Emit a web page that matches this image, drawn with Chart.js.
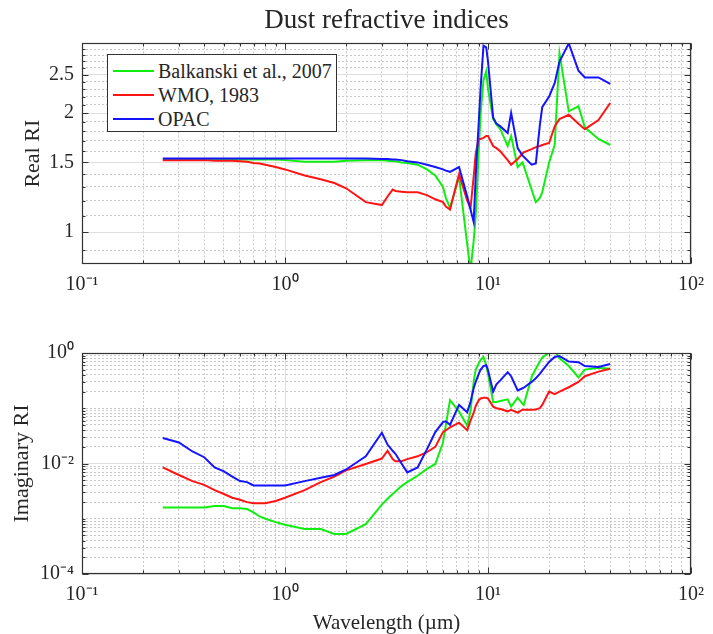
<!DOCTYPE html>
<html>
<head>
<meta charset="utf-8">
<title>Dust refractive indices</title>
<script src="https://cdn.jsdelivr.net/npm/chart.js@4.4.1/dist/chart.umd.min.js"></script>
<style>
  html, body { margin: 0; padding: 0; background: #fff; overflow: hidden; }
  #wrap { position: relative; width: 713px; height: 634px; }
  #wrap canvas { position: absolute; left: 0; }
  #realCanvas { top: 0; }
  #imagCanvas { top: 300px; }
  #legend {
    position: absolute; left: 107px; top: 54px; width: 228px; height: 76px;
    border: 1px solid #303030; background: #fff;
    font: 20px 'Liberation Serif', serif; color: #262626;
  }
  #legend .row { position: absolute; left: 0; height: 24px; line-height: 24px; white-space: nowrap; }
  #legend .swatch { position: absolute; left: 5px; top: 11px; width: 41px; height: 2px; }
  #legend .name { position: absolute; left: 50px; top: 0; }
</style>
</head>
<body>
<div id="wrap">
  <canvas id="realCanvas" width="713" height="300"></canvas>
  <canvas id="imagCanvas" width="713" height="334"></canvas>
  <div id="legend"></div>
</div>
<script>
// wavelength grid (µm)
const wavelength = [0.25, 0.3, 0.35, 0.4, 0.45, 0.5, 0.55, 0.6, 0.65, 0.7, 0.75, 0.8, 0.9, 1.0,
  1.25, 1.5, 1.75, 2.0, 2.5, 3.0, 3.2, 3.39, 3.5, 3.75, 4.0, 4.5, 5.0, 5.5, 6.0, 6.2, 6.5,
  7.2, 7.9, 8.2, 8.5, 8.7, 9.0, 9.2, 9.5, 9.8, 10.0, 10.6, 11.0, 11.5, 12.5, 13.0, 14.0,
  14.8, 15.0, 16.4, 17.2, 18.0, 18.5, 20.0, 21.3, 22.5, 25.0, 27.9, 30.0, 35.0, 40.0];

// real part
const realBalkanski = [1.525, 1.525, 1.525, 1.525, 1.525, 1.525, 1.525, 1.525, 1.525, 1.525, 1.525, 1.525, 1.525, 1.52,
  1.505, 1.505, 1.505, 1.515, 1.52, 1.52, 1.515, 1.51, 1.51, 1.5, 1.495, 1.48, 1.44, 1.39, 1.3, 1.22, 1.15,
  1.38, 0.93, 0.8, 0.95, 1.1, 1.6, 2.0, 2.42, 2.55, 2.3, 1.93, 1.87, 1.82, 1.65, 1.75, 1.46,
  1.5, 1.47, 1.28, 1.19, 1.22, 1.26, 1.5, 1.66, 2.83, 2.02, 2.08, 1.84, 1.72, 1.66];
const realWMO = [1.52, 1.52, 1.52, 1.52, 1.515, 1.515, 1.515, 1.51, 1.505, 1.495, 1.49, 1.48, 1.46, 1.44,
  1.39, 1.36, 1.33, 1.29, 1.19, 1.17, 1.23, 1.28, 1.27, 1.265, 1.26, 1.26, 1.24, 1.21, 1.19, 1.16, 1.14,
  1.4, 1.2, 1.15, 1.38, 1.58, 1.72, 1.72, 1.73, 1.75, 1.75, 1.65, 1.63, 1.6, 1.52, 1.48, 1.53,
  1.58, 1.59, 1.62, 1.64, 1.65, 1.66, 1.68, 1.85, 1.93, 1.98, 1.88, 1.82, 1.92, 2.12];
const realOPAC = [1.535, 1.535, 1.535, 1.535, 1.535, 1.535, 1.535, 1.535, 1.535, 1.535, 1.535, 1.535, 1.535, 1.535,
  1.535, 1.535, 1.535, 1.535, 1.535, 1.53, 1.53, 1.525, 1.525, 1.52, 1.51, 1.5, 1.48, 1.46, 1.44, 1.43, 1.42,
  1.46, 1.23, 1.14, 1.06, 1.39, 1.89, 2.32, 2.96, 2.93, 2.7, 1.95, 1.88, 1.85, 1.78, 2.0, 1.63,
  1.56, 1.55, 1.48, 1.49, 1.86, 2.07, 2.2, 2.38, 2.7, 3.0, 2.56, 2.46, 2.46, 2.37];

// imaginary part
const imagBalkanski = [0.0016, 0.0016, 0.0016, 0.0016, 0.0017, 0.0017, 0.00155, 0.00155, 0.0015, 0.0013, 0.0011, 0.001, 0.00087, 0.00078,
  0.00065, 0.00065, 0.00053, 0.00053, 0.0008, 0.0018, 0.0023, 0.0028, 0.0031, 0.0039, 0.0046, 0.006, 0.008, 0.0098, 0.024, 0.05, 0.14,
  0.087, 0.048, 0.09, 0.3, 0.5, 0.65, 0.75, 0.85, 0.6, 0.42, 0.13, 0.13, 0.135, 0.145, 0.107, 0.155,
  0.12, 0.115, 0.37, 0.52, 0.7, 0.82, 1.02, 1.12, 0.8, 0.58, 0.36, 0.5, 0.54, 0.52];
const imagWMO = [0.0085, 0.0062, 0.0048, 0.0041, 0.0033, 0.0028, 0.0024, 0.0022, 0.002, 0.0019, 0.0019, 0.0019, 0.0021, 0.0024,
  0.0033, 0.0046, 0.0058, 0.0075, 0.0098, 0.0123, 0.017, 0.012, 0.011, 0.011, 0.012, 0.0135, 0.016, 0.02, 0.037, 0.04, 0.045,
  0.055, 0.04, 0.06, 0.083, 0.11, 0.14, 0.15, 0.155, 0.155, 0.15, 0.107, 0.1, 0.097, 0.088, 0.094, 0.083,
  0.094, 0.094, 0.094, 0.095, 0.1, 0.115, 0.2, 0.18, 0.2, 0.24, 0.3, 0.38, 0.46, 0.52];
const imagOPAC = [0.029, 0.024, 0.0165, 0.013, 0.0085, 0.0072, 0.0058, 0.0048, 0.0046, 0.004, 0.004, 0.004, 0.004, 0.004,
  0.0048, 0.0055, 0.0062, 0.0078, 0.0135, 0.036, 0.022, 0.017, 0.015, 0.01, 0.0069, 0.0085, 0.018, 0.037, 0.056, 0.058, 0.05,
  0.115, 0.085, 0.13, 0.23, 0.3, 0.42, 0.5, 0.58, 0.6, 0.49, 0.2, 0.27, 0.32, 0.45, 0.38, 0.21,
  0.23, 0.235, 0.3, 0.35, 0.42, 0.48, 0.69, 0.85, 0.88, 0.7, 0.68, 0.58, 0.56, 0.63];

const seriesNames = ['Balkanski et al., 2007', 'WMO, 1983', 'OPAC'];
const seriesColors = ['#10ee10', '#ff1414', '#1414ff'];

// labelled ticks
const xTicks = [0.1, 1, 10, 100];
const xTickLabels = ['10⁻¹', '10⁰', '10¹', '10²'];
const realTicks = [1, 1.5, 2, 2.5];
const realTickLabels = ['1', '1.5', '2', '2.5'];
const imagTicks = [1e-4, 1e-2, 1];
const imagTickLabels = ['10⁻⁴', '10⁻²', '10⁰'];

const FONT = "'Liberation Serif', serif";
const TEXT = '#262626';
Chart.defaults.font.family = FONT;
Chart.defaults.color = TEXT;

// grid positions: every k*10^e, plus linear 0.1 steps for the real panel
function logGrid(minExp, maxExp) {
  const vals = [];
  for (let e = minExp; e < maxExp; e++) {
    for (let k = 1; k < 10; k++) vals.push(+(k * Math.pow(10, e)).toPrecision(6));
  }
  vals.push(Math.pow(10, maxExp));
  return vals;
}
const xGrid = logGrid(-1, 2);
const imagGrid = logGrid(-4, 0);
const realGrid = [];
for (let k = 9; k <= 30; k++) realGrid.push(k / 10);

function labelFor(v, ticks, labels) {
  const i = ticks.findIndex(t => Math.abs(t - v) <= 1e-6 * t);
  return i >= 0 ? labels[i] : '';
}

const isMajor = ctx => !!(ctx.tick && ctx.tick.label);

function gridScale(opts) {
  return {
    type: 'logarithmic',
    min: opts.min,
    max: opts.max,
    afterBuildTicks: s => { s.ticks = opts.grid.map(v => ({ value: v })); },
    afterFit: s => { if (opts.width) s.width = opts.width; if (opts.height) s.height = opts.height; },
    grid: {
      drawTicks: false,
      lineWidth: 1,
      color: ctx => isMajor(ctx) ? '#dedede' : '#c8c8c8'
    },
    border: { display: false, dash: ctx => isMajor(ctx) ? [] : [2, 2] },
    ticks: {
      autoSkip: false,
      maxRotation: 0,
      padding: opts.padding,
      color: TEXT,
      font: { size: 20 },
      callback: v => labelFor(v, opts.ticks, opts.labels)
    },
    title: opts.title || { display: false }
  };
}

// box around the plot area with inward tick marks
const axesBox = {
  id: 'axesBox',
  afterDatasetsDraw(chart) {
    const { ctx, chartArea: a, scales } = chart;
    const L = Math.round(a.left) + 0.5, R = Math.round(a.right) - 0.5;
    const T = Math.round(a.top) + 0.5, B = Math.round(a.bottom) - 0.5;
    ctx.save();
    ctx.strokeStyle = '#333';
    ctx.lineWidth = 1;
    ctx.beginPath();
    scales.x.ticks.forEach(t => {
      const p = Math.round(scales.x.getPixelForValue(t.value)) + 0.5;
      const len = t.label ? 6 : 3;
      ctx.moveTo(p, B); ctx.lineTo(p, B - len);
      ctx.moveTo(p, T); ctx.lineTo(p, T + len);
    });
    scales.y.ticks.forEach(t => {
      const p = Math.round(scales.y.getPixelForValue(t.value)) + 0.5;
      const len = t.label ? 6 : 3;
      ctx.moveTo(L, p); ctx.lineTo(L + len, p);
      ctx.moveTo(R, p); ctx.lineTo(R - len, p);
    });
    ctx.stroke();
    ctx.lineWidth = 1.2;
    ctx.strokeRect(L, T, R - L, B - T);
    ctx.restore();
  }
};

function makeDatasets(series) {
  return series.map((vals, i) => ({
    label: seriesNames[i],
    data: wavelength.map((w, j) => ({ x: w, y: vals[j] })),
    borderColor: seriesColors[i],
    backgroundColor: seriesColors[i],
    borderWidth: 2,
    pointRadius: 0,
    tension: 0,
    clip: 0,
    order: 2 - i
  }));
}

const baseOptions = {
  responsive: false,
  animation: false,
  events: [],
  plugins: { legend: { display: false }, tooltip: { enabled: false } }
};

new Chart(document.getElementById('realCanvas'), {
  type: 'line',
  data: { datasets: makeDatasets([realBalkanski, realWMO, realOPAC]) },
  plugins: [axesBox],
  options: {
    ...baseOptions,
    layout: { padding: { left: 0, right: 16, top: 0, bottom: 0 } },
    plugins: {
      ...baseOptions.plugins,
      title: {
        display: true,
        fullSize: false,
        text: 'Dust refractive indices',
        color: TEXT,
        font: { size: 27, weight: 'normal' },
        padding: { top: 5, bottom: 6 }
      }
    },
    scales: {
      x: gridScale({ min: 0.1, max: 100, grid: xGrid, ticks: xTicks, labels: xTickLabels, height: 36, padding: 9 }),
      y: gridScale({
        min: 0.83, max: 3, grid: realGrid, ticks: realTicks, labels: realTickLabels, width: 82, padding: 8,
        title: { display: true, text: 'Real RI', color: TEXT, font: { size: 22 }, padding: { top: 20, bottom: 0 } }
      })
    }
  }
});

new Chart(document.getElementById('imagCanvas'), {
  type: 'line',
  data: { datasets: makeDatasets([imagBalkanski, imagWMO, imagOPAC]) },
  plugins: [axesBox],
  options: {
    ...baseOptions,
    layout: { padding: { left: 0, right: 16, top: 53, bottom: 0 } },
    scales: {
      x: gridScale({
        min: 0.1, max: 100, grid: xGrid, ticks: xTicks, labels: xTickLabels, height: 60, padding: 9,
        title: { display: true, text: 'Wavelength (µm)', color: TEXT, font: { size: 21, lineHeight: 1 }, padding: { top: 0, bottom: 0 } }
      }),
      y: gridScale({
        min: 1e-4, max: 1, grid: imagGrid, ticks: imagTicks, labels: imagTickLabels, width: 82, padding: 8,
        title: { display: true, text: 'Imaginary RI', color: TEXT, font: { size: 22 }, padding: { top: 9, bottom: 0 } }
      })
    }
  }
});

// legend inside the upper panel
const legend = document.getElementById('legend');
seriesNames.forEach((name, i) => {
  const row = document.createElement('div');
  row.className = 'row';
  row.style.top = (4 + i * 24) + 'px';
  row.innerHTML = '<span class="swatch" style="background:' + seriesColors[i] + '"></span>' +
    '<span class="name">' + name + '</span>';
  legend.appendChild(row);
});
</script>
</body>
</html>
